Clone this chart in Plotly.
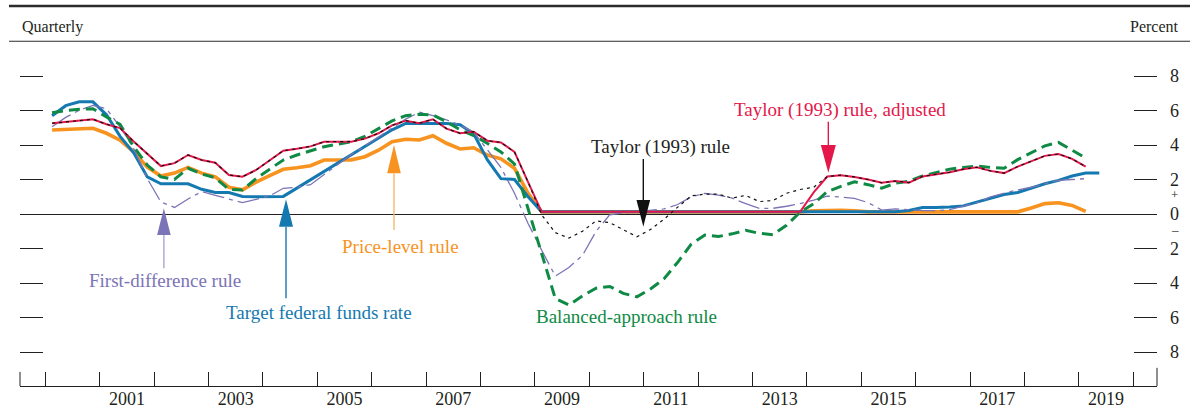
import plotly.graph_objects as go

# ---------------------------------------------------------------------------
# Quarterly data, 2000:Q1 onward (percent)
# ---------------------------------------------------------------------------
start_year = 2000

fed_funds = [
    5.70, 6.28, 6.50, 6.50, 5.75, 4.50, 3.55, 2.15, 1.75, 1.75,
    1.75, 1.43, 1.25, 1.25, 1.02, 1.00, 1.00, 1.02, 1.50, 1.98,
    2.47, 2.95, 3.45, 3.93, 4.42, 4.88, 5.25, 5.25, 5.25, 5.25,
    5.18, 4.65, 3.15, 2.05, 2.00, 1.00, 0.125, 0.125, 0.125, 0.125,
    0.125, 0.125, 0.125, 0.125, 0.125, 0.125, 0.125, 0.125, 0.125, 0.125,
    0.125, 0.125, 0.125, 0.125, 0.125, 0.125, 0.125, 0.125, 0.125, 0.125,
    0.125, 0.125, 0.125, 0.20, 0.375, 0.375, 0.40, 0.47, 0.70, 0.93,
    1.13, 1.25, 1.50, 1.75, 1.95, 2.20, 2.375, 2.375,
]

price_level = [
    4.87, 4.89, 4.91, 4.97, 4.68, 4.28, 3.60, 2.72, 2.20, 2.37,
    2.70, 2.37, 2.15, 1.55, 1.40, 1.85, 2.22, 2.59, 2.68, 2.80,
    3.13, 3.13, 3.14, 3.32, 3.70, 4.19, 4.33, 4.29, 4.54, 4.10,
    3.77, 3.84, 3.42, 3.20, 2.65, 1.20, 0.125, 0.125, 0.125, 0.125,
    0.125, 0.125, 0.125, 0.125, 0.125, 0.125, 0.125, 0.125, 0.125, 0.125,
    0.125, 0.125, 0.125, 0.125, 0.125, 0.125, 0.18, 0.22, 0.22, 0.18,
    0.125, 0.125, 0.125, 0.125, 0.125, 0.125, 0.125, 0.125, 0.125, 0.125,
    0.125, 0.125, 0.35, 0.60, 0.65, 0.50, 0.15,
]

first_difference = [
    5.06, 5.60, 6.02, 6.30, 6.10, 5.05, 3.80, 2.05, 0.70, 0.38,
    0.87, 1.30, 1.08, 0.85, 0.66, 0.85, 1.05, 1.49, 1.55, 1.70,
    2.30, 2.90, 3.45, 3.95, 4.45, 5.00, 5.50, 5.90, 5.70, 5.45,
    5.15, 4.75, 3.70, 2.70, 1.20, -0.55, -2.10, -3.60, -3.10, -2.40,
    -1.00, -0.05, 0.05, 0.13, 0.18, 0.30, 0.55, 1.00, 1.20, 1.10,
    0.92, 0.60, 0.33, 0.33, 0.45, 0.60, 0.80, 1.04, 0.98, 0.90,
    0.66, 0.23, 0.30, 0.25, 0.20, 0.20, 0.25, 0.45, 0.65, 1.00,
    1.20, 1.40, 1.55, 1.75, 1.95, 2.00, 2.05,
]

balanced_approach = [
    5.87, 6.00, 6.07, 6.10, 5.62, 5.20, 3.90, 2.84, 2.15, 2.00,
    2.65, 2.32, 2.10, 1.42, 1.39, 2.05, 2.60, 3.13, 3.42, 3.65,
    3.90, 4.05, 4.19, 4.50, 4.95, 5.40, 5.70, 5.78, 5.74, 5.35,
    4.88, 4.55, 4.10, 3.60, 2.90, 0.30, -2.20, -4.90, -5.28, -4.75,
    -4.30, -4.20, -4.60, -4.80, -4.35, -3.75, -2.80, -1.75, -1.22, -1.30,
    -1.15, -0.95, -1.12, -1.20, -0.65, 0.10, 0.60, 1.30, 1.60, 1.87,
    1.70, 1.50, 1.78, 1.90, 2.20, 2.40, 2.60, 2.70, 2.78, 2.70,
    2.65, 3.15, 3.55, 3.95, 4.15, 3.70, 3.25,
]

taylor_adjusted = [
    5.26, 5.33, 5.39, 5.49, 5.20, 4.98, 4.20, 3.50, 2.78, 2.95,
    3.42, 3.13, 2.97, 2.26, 2.16, 2.55, 3.10, 3.67, 3.78, 3.92,
    4.19, 4.19, 4.19, 4.37, 4.68, 5.14, 5.41, 5.26, 5.49, 4.95,
    4.68, 4.77, 4.25, 4.15, 3.60, 1.85, 0.125, 0.125, 0.125, 0.125,
    0.125, 0.125, 0.125, 0.125, 0.125, 0.125, 0.125, 0.125, 0.125, 0.125,
    0.125, 0.125, 0.125, 0.125, 0.125, 0.125, 1.25, 2.17, 2.25, 2.15,
    2.00, 1.81, 1.91, 1.82, 2.18, 2.28, 2.42, 2.60, 2.71, 2.50,
    2.37, 2.75, 3.05, 3.37, 3.48, 3.20, 2.74,
]

taylor_1993 = [
    5.26, 5.33, 5.39, 5.49, 5.20, 4.98, 4.20, 3.50, 2.78, 2.95,
    3.42, 3.13, 2.97, 2.26, 2.16, 2.55, 3.10, 3.67, 3.78, 3.92,
    4.19, 4.19, 4.19, 4.37, 4.68, 5.14, 5.41, 5.26, 5.49, 4.95,
    4.68, 4.77, 4.25, 4.15, 3.60, 1.85, -0.05, -1.08, -1.40, -1.00,
    -0.40, -0.50, -0.90, -1.32, -0.90, -0.30, 0.40, 1.05, 1.15, 1.15,
    0.92, 1.08, 0.72, 0.78, 1.20, 1.42, 1.55, 2.17, 2.25, 2.15,
    2.00, 1.81, 1.91, 1.82, 2.18, 2.28, 2.42, 2.60, 2.71, 2.50,
    2.37, 2.75, 3.05, 3.37, 3.48, 3.20, 2.74,
]

right_tick_vals = [-8, -6, -4, -2, 0, 2, 4, 6, 8]
right_tick_text = ["8", "6", "4", "2", "0", "2", "4", "6", "8"]
year_labels = [2001, 2003, 2005, 2007, 2009, 2011, 2013, 2015, 2017, 2019]


def quarter_axis(n):
    """Mid-quarter positions in fractional years."""
    return [start_year + (i + 0.5) / 4 for i in range(n)]


# ---------------------------------------------------------------------------
# Styling
# ---------------------------------------------------------------------------
FONT = "Liberation Serif"
INK = "#231F20"
BLUE = "#1479B0"
ORANGE = "#F7931E"
RED = "#E4174B"
GREEN = "#0E8A45"
PURPLE = "#7B74B6"

X_RANGE = [1999.535, 2020.436]
Y_RANGE = [-9.971, 9.507]

fig = go.Figure()

series = [
    ("Price-level rule", price_level, dict(color=ORANGE, width=3.6)),
    ("Target federal funds rate", fed_funds, dict(color=BLUE, width=3.0)),
    ("First-difference rule", first_difference,
     dict(color=PURPLE, width=1.3, dash="22px,5px,4px,5px")),
    ("Balanced-approach rule", balanced_approach,
     dict(color=GREEN, width=3.0, dash="11px,6px")),
    ("Taylor (1993) rule, adjusted", taylor_adjusted, dict(color=RED, width=2.0)),
    ("Taylor (1993) rule", taylor_1993,
     dict(color="#111111", width=1.2, dash="3px,4px")),
]

for name, values, line in series:
    fig.add_trace(go.Scatter(
        x=quarter_axis(len(values)), y=values, name=name,
        mode="lines", line=line, hoverinfo="x+y+name",
    ))

# invisible companion trace so the right-hand axis is laid out
fig.add_trace(go.Scatter(
    x=quarter_axis(len(fed_funds)), y=fed_funds, yaxis="y2",
    mode="lines", line=dict(width=0, color="rgba(0,0,0,0)"),
    hoverinfo="skip", showlegend=False,
))

# ---------------------------------------------------------------------------
# Callout labels and arrows (data coordinates)
# ---------------------------------------------------------------------------
shapes = []


def arrow(x, y_tip, y_base, y_tail, head_color, stem_color, half_w=0.125):
    shapes.append(dict(type="line", xref="x", yref="y",
                       x0=x, x1=x, y0=y_base, y1=y_tail,
                       line=dict(color=stem_color, width=1.4)))
    shapes.append(dict(type="path", xref="x", yref="y",
                       path=f"M {x - half_w},{y_base} L {x + half_w},{y_base} L {x},{y_tip} Z",
                       fillcolor=head_color, line=dict(width=0)))


arrow(2002.18, 0.33, -1.22, -3.15, PURPLE, "#A9A4D3")
arrow(2004.425, 0.85, -0.74, -4.89, BLUE, BLUE, 0.129)
arrow(2006.41, 4.00, 2.36, -0.93, ORANGE, "#F9B871")
arrow(2010.993, -0.74, 0.81, 3.19, "#111111", "#111111")
arrow(2014.394, 2.39, 4.00, 5.35, RED, RED, 0.138)

annotations = []


def label(text, x, y, color):
    annotations.append(dict(text=text, x=x, y=y, xref="x", yref="y",
                            showarrow=False, xanchor="center", yanchor="middle",
                            font=dict(family=FONT, size=19, color=color)))


label("Taylor (1993) rule, adjusted", 2014.608, 6.03, RED)
label("Taylor (1993) rule", 2011.30, 3.88, INK)
label("Price-level rule", 2006.533, -1.88, ORANGE)
label("First-difference rule", 2002.20, -3.83, PURPLE)
label("Target federal funds rate", 2005.03, -5.72, BLUE)
label("Balanced-approach rule", 2010.693, -5.97, GREEN)

# header texts and rules above the plotting area
annotations.append(dict(text="Quarterly", x=0.0, y=1.0685, xref="paper", yref="paper",
                        showarrow=False, xanchor="left", yanchor="middle",
                        font=dict(family=FONT, size=16, color=INK)))
annotations.append(dict(text="Percent", x=1.0209, y=1.0685, xref="paper", yref="paper",
                        showarrow=False, xanchor="right", yanchor="middle",
                        font=dict(family=FONT, size=16, color=INK)))
# sign markers around zero on the right scale
annotations.append(dict(text="+", x=1.0158, y=0.0, xref="paper", yref="y",
                        yshift=20, showarrow=False, xanchor="center", yanchor="middle",
                        font=dict(family=FONT, size=13, color=INK)))
annotations.append(dict(text="\u2013", x=1.0158, y=0.0, xref="paper", yref="y",
                        yshift=-15, showarrow=False, xanchor="center", yanchor="middle",
                        font=dict(family=FONT, size=13, color=INK)))

shapes.append(dict(type="line", xref="paper", yref="paper", x0=-0.0097, x1=1.03,
                   y0=1.131, y1=1.131, line=dict(color="#2b2b2b", width=2.6)))
shapes.append(dict(type="line", xref="paper", yref="paper", x0=-0.0097, x1=1.03,
                   y0=1.0259, y1=1.0259, line=dict(color="#2b2b2b", width=1.1)))
# end caps of the time axis
shapes.append(dict(type="line", xref="paper", yref="paper", x0=0, x1=0,
                   y0=0, y1=0.042, line=dict(color=INK, width=1)))
shapes.append(dict(type="line", xref="paper", yref="paper", x0=1, x1=1,
                   y0=0, y1=0.054, line=dict(color=INK, width=1)))

fig.update_layout(
    width=1190, height=410, autosize=False,
    margin=dict(l=20, r=33, t=50, b=24, pad=0, autoexpand=False),
    paper_bgcolor="white", plot_bgcolor="white",
    showlegend=False,
    font=dict(family=FONT, size=18, color=INK),
    shapes=shapes, annotations=annotations,
    xaxis=dict(
        range=X_RANGE, showgrid=False, zeroline=False, automargin=False,
        showline=True, linecolor=INK, linewidth=1,
        tickmode="array", tickvals=[y + 0.5 for y in year_labels],
        ticktext=[str(y) for y in year_labels],
        ticks="inside", ticklen=0, tickcolor="rgba(0,0,0,0)",
        ticklabelstandoff=-4,
        tickfont=dict(family=FONT, size=18, color=INK),
        minor=dict(ticks="inside", ticklen=14, tickwidth=1, tickcolor=INK,
                   tick0=2000, dtick=1, showgrid=False),
    ),
    yaxis=dict(
        range=Y_RANGE, showgrid=False, showline=False, automargin=False,
        zeroline=True, zerolinecolor=INK, zerolinewidth=1.3,
        tickmode="array", tickvals=[-8, -6, -4, -2, 2, 4, 6, 8],
        ticks="inside", ticklen=23, tickwidth=1, tickcolor=INK,
        showticklabels=False,
    ),
    yaxis2=dict(
        range=Y_RANGE, overlaying="y", side="right", automargin=False,
        showgrid=False, showline=False, zeroline=False,
        tickmode="array", tickvals=right_tick_vals, ticktext=right_tick_text,
        ticks="inside", ticklen=23, tickwidth=1, tickcolor=INK,
        ticklabelstandoff=12,
        tickfont=dict(family=FONT, size=18, color=INK),
    ),
)

fig.write_html("out.html")
